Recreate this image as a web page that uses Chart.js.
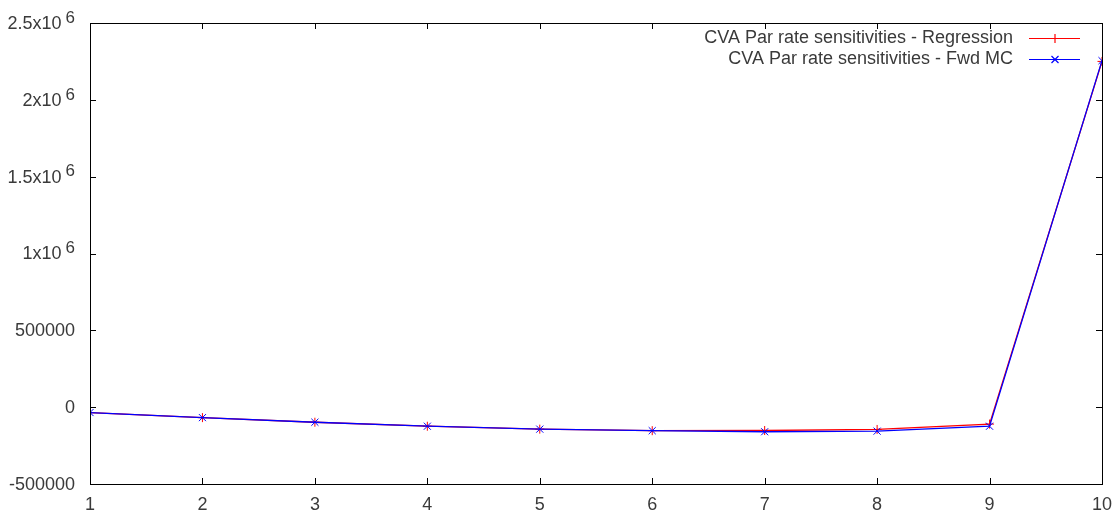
<!DOCTYPE html>
<html><head><meta charset="utf-8">
<script src="https://cdn.jsdelivr.net/npm/chart.js@4.4.1/dist/chart.umd.min.js"></script>
<style>html,body{margin:0;padding:0;background:#fff}#wrap{width:1120px;height:515px}</style>
</head><body><div id="wrap"><canvas id="c" width="1120" height="515"></canvas></div>
<script>
const categories = [1,2,3,4,5,6,7,8,9,10];
const regression = [-35000,-68000,-98000,-124000,-143000,-153000,-152000,-145000,-110000,2250000];
const fwdMC = [-35000,-68000,-98000,-124000,-143000,-153000,-160000,-156000,-124000,2255000];
const yTicks = [-500000,0,500000,1000000,1500000,2000000,2500000];
const yTickLabels = [['-500000',''],['0',''],['500000',''],['1x10','6'],['1.5x10','6'],['2x10','6'],['2.5x10','6']];
const seriesNames = ['CVA Par rate sensitivities - Regression','CVA Par rate sensitivities - Fwd MC'];
const seriesColors = ['#ff0000','#0000ff'];
const seriesMarkers = ['cross','crossRot'];
const FONT = '"Liberation Sans", Arial, sans-serif';
const TXT = '#3a3a3a';

const frame = {
  id:'frame',
  afterDatasetsDraw(chart){
    const ctx = chart.ctx, a = chart.chartArea, xs = chart.scales.x, ys = chart.scales.y;
    ctx.save();
    ctx.strokeStyle = '#000'; ctx.lineWidth = 1;
    ctx.strokeRect(Math.round(a.left)+0.5, Math.round(a.top)+0.5, Math.round(a.right-a.left), Math.round(a.bottom-a.top));
    const tl = 6;
    ctx.beginPath();
    yTicks.forEach(v=>{
      const y = Math.round(ys.getPixelForValue(v))+0.5;
      ctx.moveTo(a.left, y); ctx.lineTo(a.left+tl, y);
      ctx.moveTo(a.right, y); ctx.lineTo(a.right-tl, y);
    });
    categories.forEach(c=>{
      const x = Math.round(xs.getPixelForValue(c))+0.5;
      ctx.moveTo(x, a.bottom); ctx.lineTo(x, a.bottom-tl);
      ctx.moveTo(x, a.top); ctx.lineTo(x, a.top+tl);
    });
    ctx.stroke();
    // y labels
    ctx.fillStyle = TXT; ctx.textBaseline = 'middle';
    yTicks.forEach((v,i)=>{
      const y = ys.getPixelForValue(v);
      const [base, exp] = yTickLabels[i];
      let right = 75;
      if (exp){
        ctx.font = '17px ' + FONT;
        ctx.textAlign = 'right';
        ctx.fillText(exp, right, y-5);
        const ew = ctx.measureText(exp).width;
        right -= ew + 4;
      }
      ctx.font = '18px ' + FONT;
      ctx.textAlign = 'right';
      ctx.fillText(base, right, y+1);
    });
    // x labels
    ctx.textAlign = 'center'; ctx.textBaseline = 'middle'; ctx.font = '18px ' + FONT;
    categories.forEach(c=>{
      ctx.fillText(String(c), xs.getPixelForValue(c), 505);
    });
    // legend
    const rows = [38, 59];
    seriesNames.forEach((n,i)=>{
      const y = rows[i];
      ctx.fillStyle = TXT; ctx.textAlign = 'right'; ctx.font = '18px ' + FONT;
      ctx.fillText(n, 1013, y);
      ctx.strokeStyle = seriesColors[i]; ctx.lineWidth = 1.2;
      ctx.beginPath(); ctx.moveTo(1029, y+0.5); ctx.lineTo(1080, y+0.5); ctx.stroke();
      ctx.beginPath();
      if (i===0){ ctx.moveTo(1055, y-4); ctx.lineTo(1055, y+5); }
      else { ctx.moveTo(1051.5, y-3); ctx.lineTo(1058.5, y+4); ctx.moveTo(1051.5, y+4); ctx.lineTo(1058.5, y-3); }
      ctx.stroke();
    });
    ctx.restore();
  }
};

new Chart(document.getElementById('c'), {
  type:'line',
  data:{
    datasets:[
      {label:seriesNames[0], data:categories.map((c,i)=>({x:c,y:regression[i]})), borderColor:seriesColors[0], backgroundColor:seriesColors[0], borderWidth:1.3, pointStyle:seriesMarkers[0], pointRadius:4.5, pointBorderWidth:1, pointBorderColor:seriesColors[0], tension:0, order:2},
      {label:seriesNames[1], data:categories.map((c,i)=>({x:c,y:fwdMC[i]})), borderColor:seriesColors[1], backgroundColor:seriesColors[1], borderWidth:1.3, pointStyle:seriesMarkers[1], pointRadius:5, pointBorderWidth:1, pointBorderColor:seriesColors[1], tension:0, order:1}
    ]
  },
  options:{
    responsive:false, animation:false, devicePixelRatio:1,
    layout:{padding:{top:23,right:18,left:0,bottom:0}},
    plugins:{legend:{display:false}, tooltip:{enabled:false}},
    scales:{
      x:{type:'linear', min:1, max:10, grid:{display:false}, border:{display:false}, ticks:{display:false},
         afterFit(s){ s.height = 31; }},
      y:{type:'linear', min:-500000, max:2500000, grid:{display:false}, border:{display:false}, ticks:{display:false},
         afterFit(s){ s.width = 90; }}
    }
  },
  plugins:[frame]
});
</script></body></html>
